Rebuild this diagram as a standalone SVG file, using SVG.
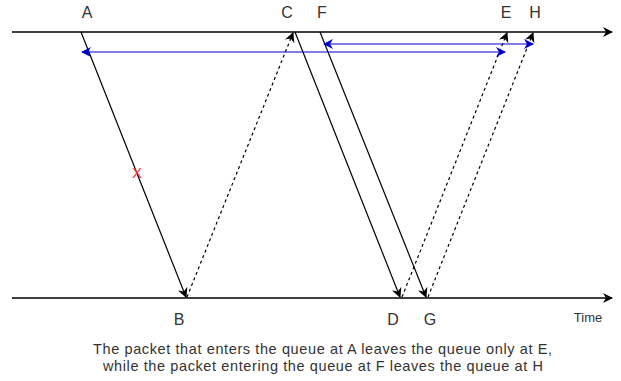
<svg xmlns="http://www.w3.org/2000/svg" width="621" height="381" viewBox="0 0 621 381">
<style>
.lbl{font-family:"Liberation Sans",Arial,sans-serif;font-size:16px;fill:#333;text-anchor:middle}
.small{font-family:"Liberation Sans",Arial,sans-serif;font-size:13px;fill:#333;text-anchor:middle}
.cap{font-family:"Liberation Sans",Arial,sans-serif;font-size:14.5px;fill:#333;text-anchor:middle}
.axis{stroke:#000;stroke-width:1.5;fill:none}
.sol{stroke:#000;stroke-width:1.2;fill:none}
.dash{stroke:#000;stroke-width:1.2;fill:none;stroke-dasharray:3 3}
.blue{stroke:#0000cc;stroke-width:1.2;fill:none}
</style>
<defs>
<marker id="ah" viewBox="0 0 10 10" refX="9" refY="5" markerWidth="10" markerHeight="10" markerUnits="userSpaceOnUse" orient="auto">
<path d="M0,0 L10,5 L0,10 L3,5 Z" fill="#000"/>
</marker>
<marker id="ahb" viewBox="0 0 10 10" refX="9" refY="5" markerWidth="10" markerHeight="10" markerUnits="userSpaceOnUse" orient="auto-start-reverse">
<path d="M0,0 L10,5 L0,10 L3,5 Z" fill="#0000cc"/>
</marker>
</defs>
<g id="axes">
<line class="axis" x1="12" y1="32" x2="612" y2="32" marker-end="url(#ah)"/>
<line class="axis" x1="12" y1="298" x2="612" y2="298" marker-end="url(#ah)"/>
</g>
<g id="connectors">
<line class="sol" x1="81" y1="32" x2="186" y2="297" marker-end="url(#ah)"/>
<line class="dash" x1="187" y1="297" x2="293" y2="33" marker-end="url(#ah)"/>
<line class="sol" x1="295" y1="32" x2="400" y2="297" marker-end="url(#ah)"/>
<line class="dash" x1="402" y1="297" x2="507" y2="33" marker-end="url(#ah)"/>
<line class="sol" x1="320" y1="32" x2="426" y2="297" marker-end="url(#ah)"/>
<line class="dash" x1="428" y1="297" x2="533" y2="33" marker-end="url(#ah)"/>
<line class="blue" x1="82" y1="52" x2="505" y2="52" marker-start="url(#ahb)" marker-end="url(#ahb)"/>
<line class="blue" x1="324" y1="44" x2="533" y2="44" marker-start="url(#ahb)" marker-end="url(#ahb)"/>
</g>
<g id="labels">
<text class="lbl" x="87" y="18">A</text>
<text class="lbl" x="287" y="18">C</text>
<text class="lbl" x="322" y="18">F</text>
<text class="lbl" x="506" y="18">E</text>
<text class="lbl" x="535" y="18">H</text>
<text class="lbl" x="179" y="325">B</text>
<text class="lbl" x="393" y="325">D</text>
<text class="lbl" x="430" y="325">G</text>
<text class="small" x="588" y="322">Time</text>
<text x="137" y="178" style="font-family:'Liberation Sans',Arial,sans-serif;font-size:15px;fill:#ff3333;text-anchor:middle">X</text>
<text class="cap" x="322.5" y="354" textLength="459" lengthAdjust="spacing">The packet that enters the queue at A leaves the queue only at E,</text>
<text class="cap" x="323" y="371" textLength="440" lengthAdjust="spacing">while the packet entering the queue at F leaves the queue at H</text>
</g>
</svg>
